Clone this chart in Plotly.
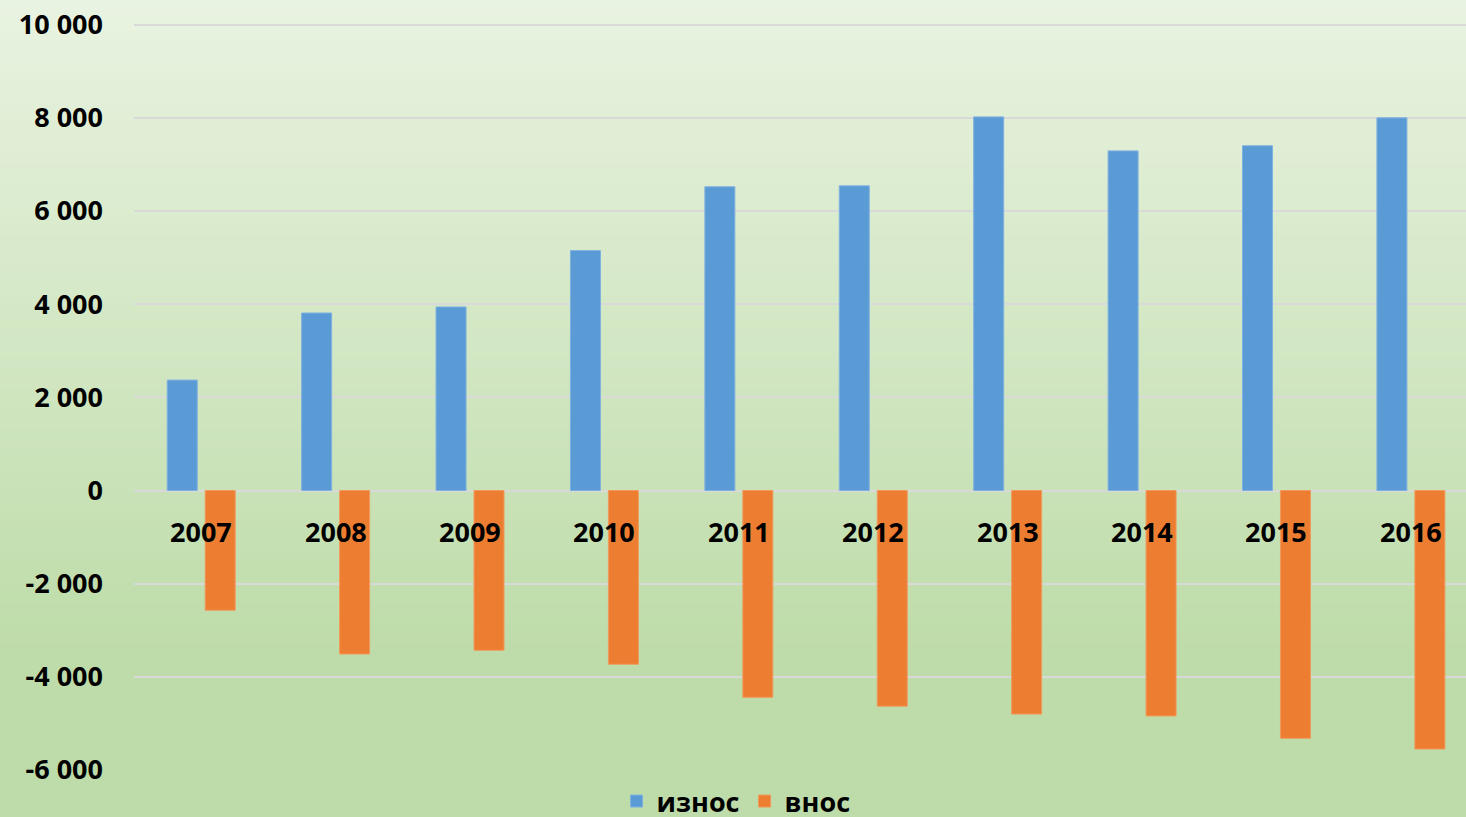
import plotly.graph_objects as go

years = ["2007", "2008", "2009", "2010", "2011", "2012", "2013", "2014", "2015", "2016"]
iznos = [2370, 3810, 3940, 5150, 6520, 6540, 8020, 7290, 7400, 8000]
vnos = [-2570, -3510, -3430, -3730, -4440, -4630, -4800, -4840, -5320, -5550]
y_tick_vals = [-6000, -4000, -2000, 0, 2000, 4000, 6000, 8000, 10000]
y_tick_text = ["-6 000", "-4 000", "-2 000", "0", "2 000", "4 000", "6 000", "8 000", "10 000"]

FONT = "Open Sans"
W, H = 1466, 817
ML, MR, MT, MB = 134, 0, 20, 47

fig = go.Figure()
fig.add_trace(go.Bar(
    x=years, y=iznos, name="износ",
    marker=dict(color="#5b9bd5", line=dict(color="#7fb1e0", width=1)),
))
fig.add_trace(go.Bar(
    x=years, y=vnos, name="внос",
    marker=dict(color="#ed7d31", line=dict(color="#f09a5e", width=1)),
))

# vertical gradient background (bands in paper coords, covering the whole page)
def lerp(a, b, t):
    return tuple(round(a[i] + (b[i] - a[i]) * t) for i in range(3))

top = (233, 243, 225)
bot = (190, 220, 169)
ph = H - MT - MB
n = 80
shapes = []
for i in range(n):
    py0 = H * i / n
    py1 = H * (i + 1) / n + 1
    t = min(1.0, ((py0 + py1) / 2) / 650)
    c = lerp(top, bot, t)
    y0p = (H - MB - py1) / ph
    y1p = (H - MB - py0) / ph
    shapes.append(dict(type="rect", xref="paper", yref="paper",
                       x0=-ML / (W - ML - MR) - 0.01, x1=1.01, y0=y0p, y1=y1p,
                       fillcolor="rgb(%d,%d,%d)" % c, line=dict(width=0), layer="below"))

annotations = []
for i, yr in enumerate(years):
    annotations.append(dict(x=i, y=0, xref="x", yref="y", text=yr, showarrow=False,
                            yshift=-41, yanchor="middle", xanchor="center",
                            font=dict(family=FONT, size=27, color="black", weight="bold")))

fig.update_layout(
    width=W, height=H,
    margin=dict(l=ML, r=MR, t=MT, b=MB, autoexpand=False),
    paper_bgcolor="#d8e9cc", plot_bgcolor="rgba(0,0,0,0)",
    barmode="group", bargap=0.435, bargroupgap=0.21,
    shapes=shapes, annotations=annotations,
    font=dict(family=FONT, size=27, color="black", weight="bold"),
    showlegend=True,
    legend=dict(orientation="h", x=0.452, xanchor="center", y=-0.042, yanchor="middle",
                font=dict(family=FONT, size=27, color="black", weight="bold"),
                bgcolor="rgba(0,0,0,0)", traceorder="normal"),
    xaxis=dict(type="category", range=[-0.5, 9.41], showticklabels=False, showgrid=False,
               zeroline=False, showline=False, ticks=""),
    yaxis=dict(range=[-6000, 10100], tickvals=y_tick_vals, ticktext=y_tick_text,
               showgrid=True, gridcolor="#d9d9d9", gridwidth=1.5,
               zeroline=True, zerolinecolor="#d9d9d9", zerolinewidth=1.5,
               showline=False, ticks="", ticklabelstandoff=30,
               tickfont=dict(family=FONT, size=27, color="black", weight="bold")),
)

fig.write_html("out.html", config={"displayModeBar": False},
               post_script="document.body.style.margin='0';")
